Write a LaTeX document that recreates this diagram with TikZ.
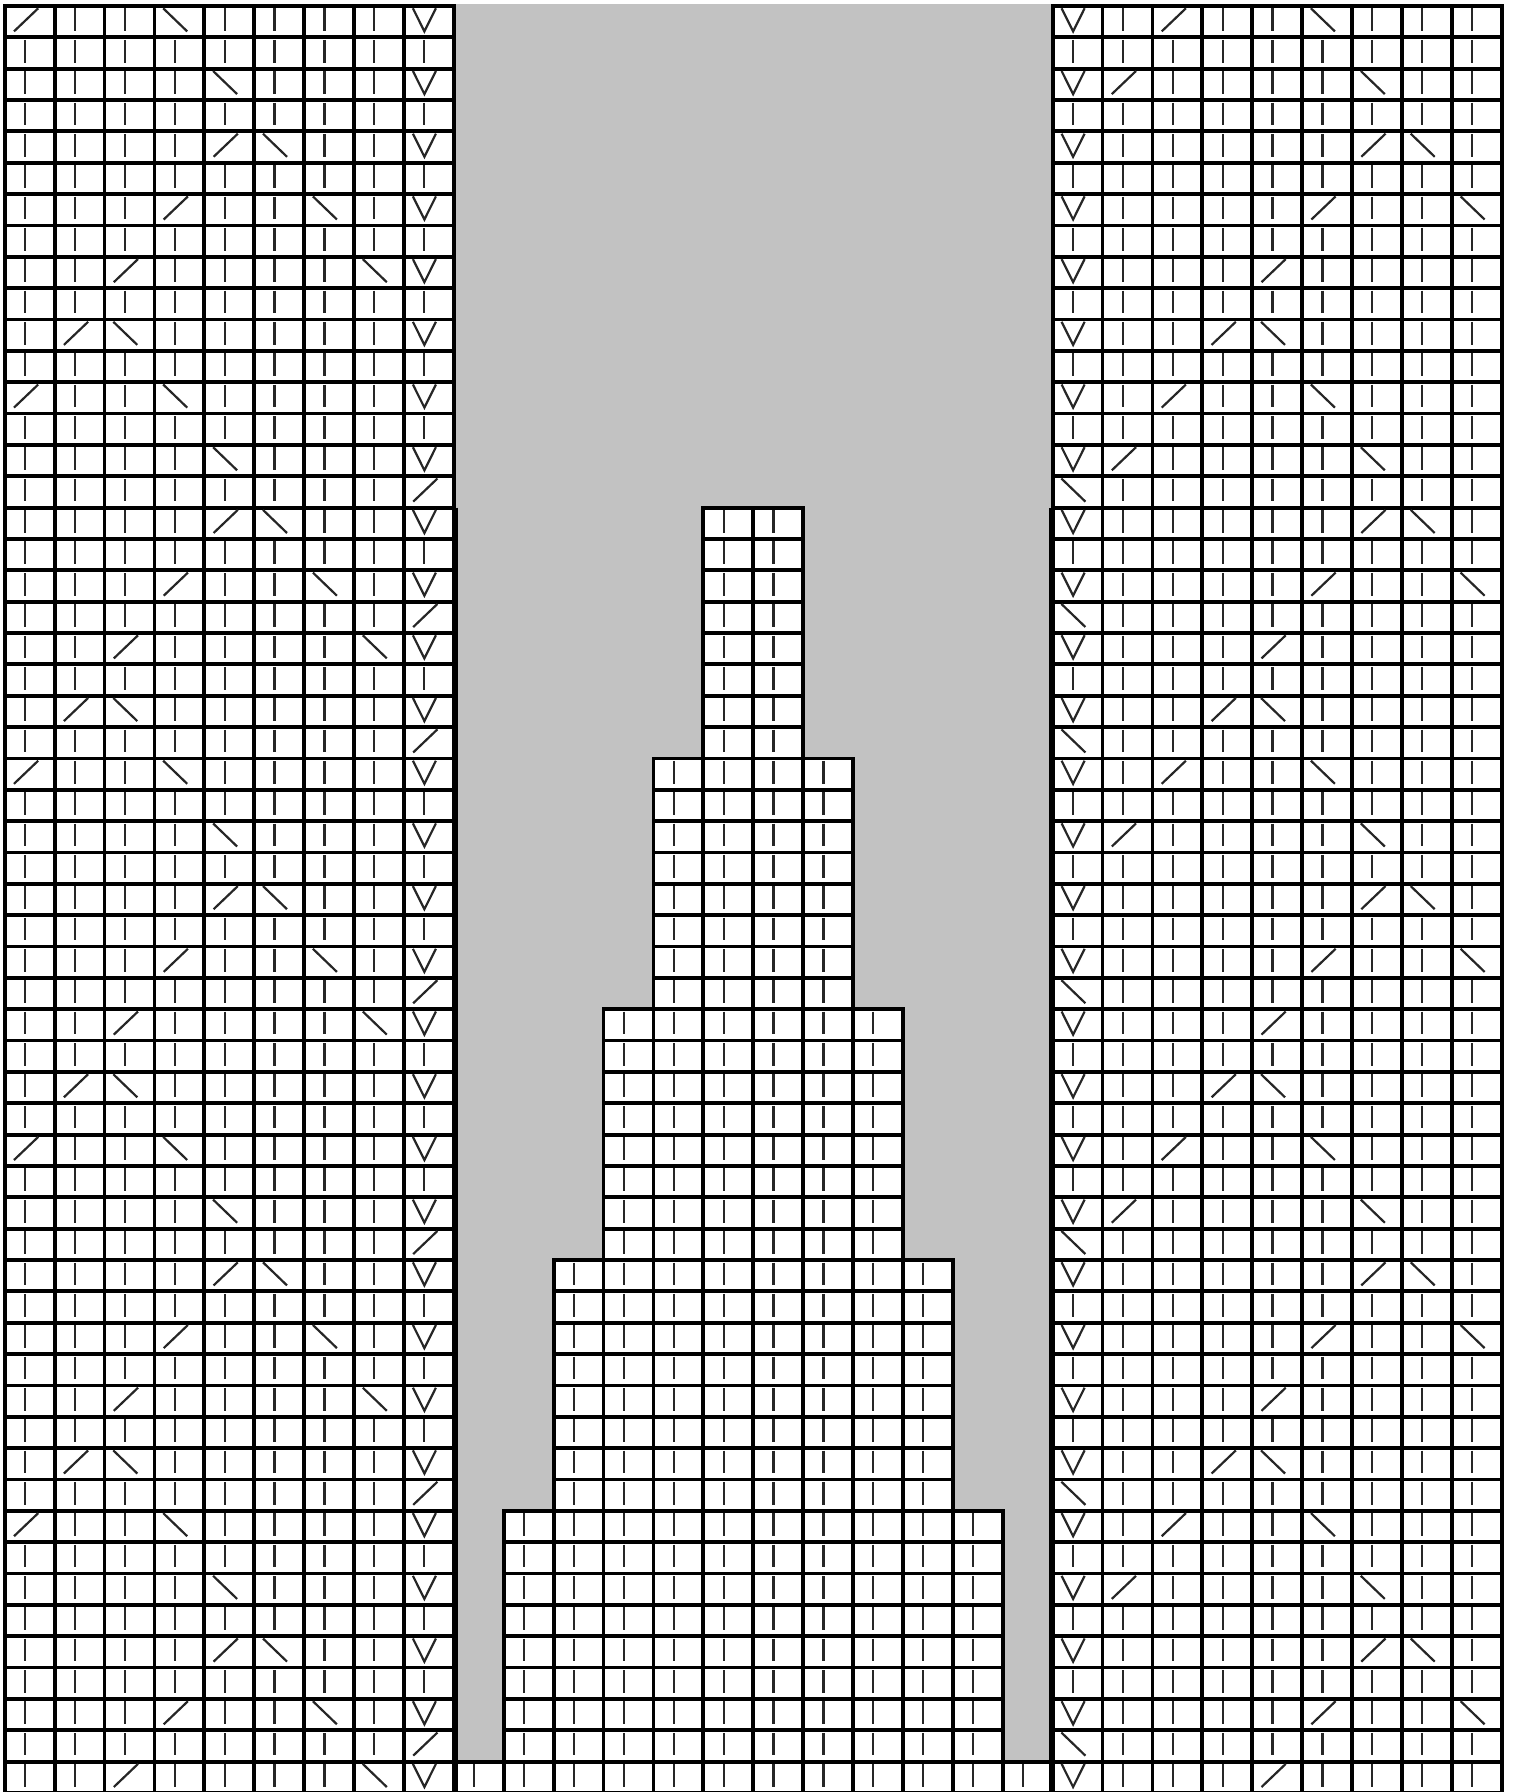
\documentclass[tikz,border=0pt]{standalone}
\definecolor{gfill}{RGB}{194,194,194}
\tikzset{
  gridline/.style={line width=1.9pt, black},
  sym/.style={line width=1.1pt, black!85, line cap=butt},
}
\newcommand\ksymB{\draw[sym] ({\xl+20.3},{\yt+2.5}) -- ({\xl+20.3},{\yt+25.2});}
\newcommand\ksymS{\draw[sym] ({\xl+9.3},{\yt+25.4}) -- ({\xl+33.5},{\yt+2.3});}
\newcommand\ksymK{\draw[sym] ({\xl+8.8},{\yt+2.3}) -- ({\xl+32.8},{\yt+25.4});}
\newcommand\ksymV{\draw[sym] ({\xl+9},{\yt+2.3}) -- ({\xl+20.5},{\yt+25.4}) -- ({\xl+32},{\yt+2.3});}
\newcommand\kcell[3]{%
  \pgfmathsetmacro\xl{4.7+49.9*#1}%
  \pgfmathsetmacro\yt{6+31.35*#2}%
  \draw[gridline] (\xl,\yt) rectangle ({\xl+49.9},{\yt+31.35});%
  \csname ksym#3\endcsname}
\newcommand\krow[3]{%
  \foreach \s [count=\i from 0] in {#3} {\pgfmathtruncatemacro\cc{#1+\i}\kcell{\cc}{#2}{\s}}}
\begin{document}
\begin{tikzpicture}[x=0.5pt,y=-0.5pt]
\useasboundingbox (0,0) rectangle (1514,1792);
\clip (0,0) rectangle (1514,1792);
% gray middle band
\fill[gfill] (453.8,4.4) rectangle (1052.6,1761.6);
% white pyramid
\foreach \r in {16,...,56}{
  \pgfmathtruncatemacro\b{int((\r-16)/8)}
  \pgfmathtruncatemacro\lo{14-\b}
  \pgfmathtruncatemacro\hi{16+\b}
  \fill[white] ({4.7+49.9*\lo},{6+31.35*\r}) rectangle ({4.7+49.9*\hi},{6+31.35*(\r+1)});
}
% side panels
\foreach \r in {0,...,56}{
  \pgfmathtruncatemacro\odd{mod(\r,2)}
  \pgfmathtruncatemacro\k{mod(int(\r/2),6)}
  \pgfmathtruncatemacro\dec{((\r==15)||(\r==19)||((\r>22)&&(mod(\r-23,8)==0)))?1:0}
  \ifnum\odd=1
    \ifnum\dec=1
      \krow{0}{\r}{B,B,B,B,B,B,B,B,S}
      \krow{21}{\r}{K,B,B,B,B,B,B,B,B}
    \else
      \krow{0}{\r}{B,B,B,B,B,B,B,B,B}
      \krow{21}{\r}{B,B,B,B,B,B,B,B,B}
    \fi
  \else
    \ifcase\k
      \krow{0}{\r}{S,B,B,K,B,B,B,B,V}
      \krow{21}{\r}{V,B,S,B,B,K,B,B,B}
    \or
      \krow{0}{\r}{B,B,B,B,K,B,B,B,V}
      \krow{21}{\r}{V,S,B,B,B,B,K,B,B}
    \or
      \krow{0}{\r}{B,B,B,B,S,K,B,B,V}
      \krow{21}{\r}{V,B,B,B,B,B,S,K,B}
    \or
      \krow{0}{\r}{B,B,B,S,B,B,K,B,V}
      \krow{21}{\r}{V,B,B,B,B,S,B,B,K}
    \or
      \krow{0}{\r}{B,B,S,B,B,B,B,K,V}
      \krow{21}{\r}{V,B,B,B,S,B,B,B,B}
    \or
      \krow{0}{\r}{B,S,K,B,B,B,B,B,V}
      \krow{21}{\r}{V,B,B,S,K,B,B,B,B}
    \fi
  \fi
}
% pyramid cells
\foreach \r in {16,...,56}{
  \pgfmathtruncatemacro\b{int((\r-16)/8)}
  \pgfmathtruncatemacro\lo{14-\b}
  \pgfmathtruncatemacro\hi{15+\b}
  \foreach \c in {\lo,...,\hi}{\kcell{\c}{\r}{B}}
}
% heavier panel edges beside the pyramid
\draw[gridline] (455.8,507.6) -- (455.8,1792);
\draw[gridline] (1051.2,507.6) -- (1051.2,1792);
\end{tikzpicture}
\end{document}
